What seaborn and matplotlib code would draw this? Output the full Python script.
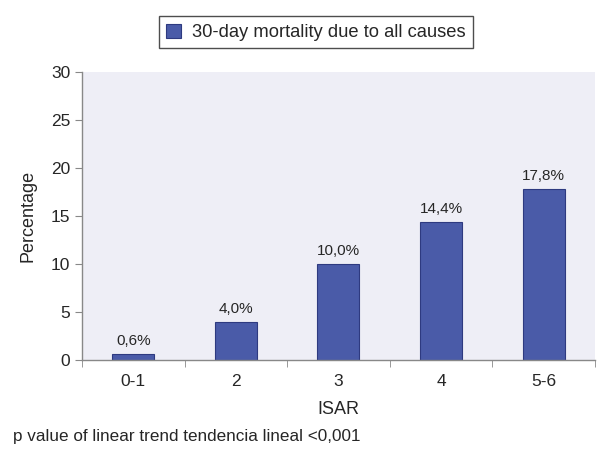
import matplotlib
matplotlib.use("Agg")
import matplotlib.pyplot as plt
import seaborn as sns
import pandas as pd

# data
categories = ["0-1", "2", "3", "4", "5-6"]
mortality = [0.6, 4.0, 10.0, 14.4, 17.8]
bar_labels = ["0,6%", "4,0%", "10,0%", "14,4%", "17,8%"]
series_name = "30-day mortality due to all causes"

df = pd.DataFrame({"ISAR": categories, "Percentage": mortality})

sns.set_style("white")
plt.rcParams["font.family"] = ["Liberation Sans", "DejaVu Sans"]

fig = plt.figure(figsize=(5.99, 4.5), dpi=100)
ax = fig.add_axes([0.137, 0.2, 0.856, 0.64])
ax.set_facecolor("#eeeef6")

sns.barplot(data=df, x="ISAR", y="Percentage", color="#4a5ba8",
            saturation=1, width=0.41, edgecolor="#2e3a80", linewidth=0.8,
            ax=ax, label=series_name, legend=False)

for i, (v, t) in enumerate(zip(mortality, bar_labels)):
    ax.text(i, v + 0.6, t, ha="center", va="bottom", fontsize=11)

ax.set_ylim(0, 30)
ax.set_xlim(-0.5, 4.5)
ax.set_yticks(range(0, 31, 5))
ax.tick_params(axis="y", which="both", length=5, color="#888888",
               labelsize=12.5, direction="out", left=True)
# x ticks sit between categories
ax.set_xticks(range(5))
ax.tick_params(axis="x", length=0, labelsize=12.5, pad=10)
ax.set_xticks([-0.5, 0.5, 1.5, 2.5, 3.5, 4.5], minor=True)
ax.tick_params(axis="x", which="minor", length=5, color="#888888",
               direction="out", bottom=True)

for s in ["top", "right"]:
    ax.spines[s].set_visible(False)
for s in ["left", "bottom"]:
    ax.spines[s].set_color("#888888")
    ax.spines[s].set_linewidth(1.0)

ax.set_xlabel("ISAR", fontsize=13, labelpad=9)
ax.set_ylabel("Percentage", fontsize=13, labelpad=10)

leg = fig.legend(loc="center", bbox_to_anchor=(0.527, 0.928), fontsize=13.2,
                 frameon=True, fancybox=False, handlelength=0.8,
                 handleheight=0.8, borderpad=0.4, handletextpad=0.6)
leg.get_frame().set_edgecolor("#222222")
leg.get_frame().set_linewidth(1.0)

fig.text(0.022, 0.029, "p value of linear trend tendencia lineal <0,001",
         fontsize=12.3, va="center")

fig.savefig("out.png", dpi=100)
